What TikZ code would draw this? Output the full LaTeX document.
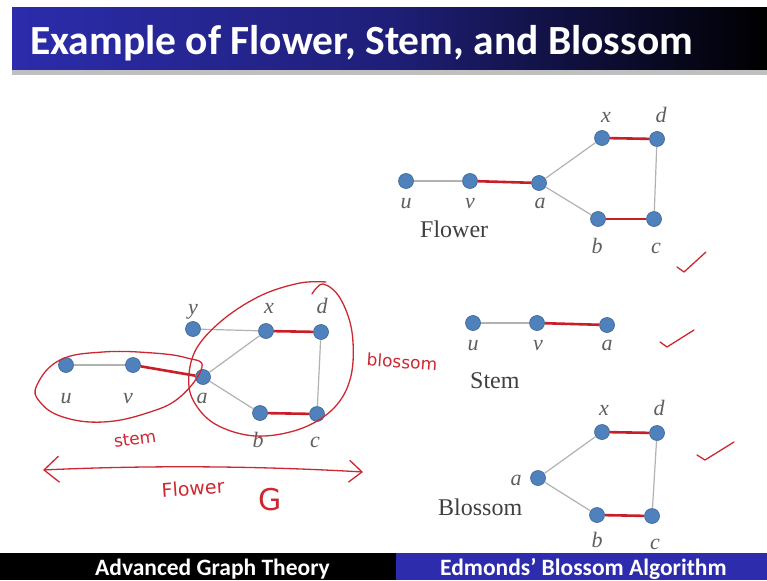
\documentclass[tikz,border=0pt]{standalone}
\usepackage{fontspec}
\setmainfont{Liberation Serif}
\newfontfamily\calib{Carlito}
\newfontfamily\handfont{DejaVu Sans}
\usetikzlibrary{arrows.meta}

\definecolor{vtxblue}{RGB}{79,129,189}
\definecolor{vtxrim}{RGB}{58,98,148}
\definecolor{matchred}{RGB}{200,30,40}
\definecolor{edgegray}{RGB}{178,178,178}
\definecolor{penred}{RGB}{205,40,50}
\definecolor{barblue}{RGB}{44,44,172}
\definecolor{lblgray}{RGB}{95,95,95}

\tikzset{
  vtx/.style={circle, fill=vtxblue, draw=vtxrim, line width=0.6pt, minimum size=15pt, inner sep=0pt},
  lbl/.style={text=lblgray, font=\fontsize{22}{22}\selectfont\itshape, inner sep=0pt, anchor=base},
  plain/.style={draw=edgegray, line width=1.2pt},
  matched/.style={draw=matchred, line width=2.6pt},
  pen/.style={draw=penred, line width=1.3pt, line cap=round, line join=round},
  hand/.style={text=penred, font=\handfont\fontsize{17}{17}\selectfont, inner sep=0pt},
  caption/.style={text=black!75, font=\fontsize{24}{24}\selectfont, inner sep=0pt, anchor=base west},
  bartext/.style={text=white, font=\calib\bfseries\fontsize{23.5}{23.5}\selectfont, inner sep=0pt, anchor=base west}
}

\begin{document}
\begin{tikzpicture}[x=1pt, y=-1pt]
\useasboundingbox (0,0) rectangle (767,580);
\fill[white] (0,0) rectangle (767,580);

% title bar
\shade[left color=barblue, right color=black, middle color=barblue!70!black] (12,8) rectangle (767,70);
\fill[black!25] (12,70) rectangle (767,75);
\node[text=white, font=\calib\bfseries\fontsize{41.5}{41.5}\selectfont, inner sep=0pt, anchor=base west] (title) at (30,55) {Example of Flower, Stem, and Blossom};

% flower
\foreach \n/\x/\y in {fu/406/181, fv/470/181, fa/539/183, fx/602/138, fd/657/139, fb/598/219, fc/654/219}
  \node[vtx] (\n) at (\x,\y) {};
\foreach \a/\b in {fu/fv, fa/fx, fa/fb, fd/fc}
  \draw[plain] (\a) -- (\b);
\foreach \a/\b in {fv/fa, fx/fd, fb/fc}
  \draw[matched] (\a) -- (\b);
\foreach \n/\t/\x/\y in {fu-l/u/406/208, fv-l/v/470/208, fa-l/a/540/208, fx-l/x/606/123, fd-l/d/661/123, fb-l/b/597/253, fc-l/c/656/253}
  \node[lbl] (\n) at (\x,\y) {\t};
\node[caption] (flowercap) at (420,237) {Flower};

% stem
\foreach \n/\x/\y in {su/473/323, sv/537/323, sa/607/325}
  \node[vtx] (\n) at (\x,\y) {};
\draw[plain] (su) -- (sv);
\draw[matched] (sv) -- (sa);
\foreach \n/\t/\x/\y in {su-l/u/473/350, sv-l/v/538/350, sa-l/a/607/350}
  \node[lbl] (\n) at (\x,\y) {\t};
\node[caption] (stemcap) at (470,388) {Stem};

% blossom
\foreach \n/\x/\y in {bx/602/432, bd/657/433, ba/538/478, bb/597/515, bc/652/516}
  \node[vtx] (\n) at (\x,\y) {};
\foreach \a/\b in {ba/bx, ba/bb, bd/bc}
  \draw[plain] (\a) -- (\b);
\foreach \a/\b in {bx/bd, bb/bc}
  \draw[matched] (\a) -- (\b);
\foreach \n/\t/\x/\y in {bx-l/x/604/415, bd-l/d/659/415, ba-l/a/516/485, bb-l/b/597/547, bc-l/c/655/549}
  \node[lbl] (\n) at (\x,\y) {\t};
\node[caption] (blossomcap) at (438,515) {Blossom};

% graph with the notes
\foreach \n/\x/\y in {gy/193/329, gx/266/331, gd/321/332, gu/66/365, gv/133/365, ga/203/377, gb/260/413, gc/317/414}
  \node[vtx] (\n) at (\x,\y) {};
\foreach \a/\b in {gy/gx, ga/gx, ga/gb, gd/gc, gu/gv}
  \draw[plain] (\a) -- (\b);
\foreach \a/\b in {gx/gd, gb/gc, gv/ga}
  \draw[matched] (\a) -- (\b);
\foreach \n/\t/\x/\y in {gy-l/y/193/314, gx-l/x/269/313, gd-l/d/322/313, gu-l/u/66/403, gv-l/v/128/403, ga-l/a/202/403, gb-l/b/258/447, gc-l/c/315/447}
  \node[lbl] (\n) at (\x,\y) {\t};

% red pen
\draw[pen] plot[smooth cycle, tension=0.7] coordinates {(37,385) (60,360) (103,352) (153,353) (187,358) (202,367) (180,397) (147,413) (103,422) (63,417) (40,402)};
\draw[pen] plot[smooth, tension=0.6] coordinates {(312,294) (323,284) (340,298) (352,332) (351,376) (334,408) (300,429) (255,436) (215,424) (193,400) (189,374) (198,346) (225,318) (262,295) (300,283) (326,282)};
\coordinate (arrl) at (43,470);
\coordinate (arrr) at (363,472);
\draw[pen, {Straight Barb[length=15pt, width=26pt]}-{Straight Barb[length=13pt, width=22pt]}] (arrl) .. controls (150,465) and (260,466) .. (arrr);
\node[hand, rotate=8] (stemnote) at (135,439) {stem};
\node[hand, rotate=-4] (blossomnote) at (402,362) {blossom};
\node[hand, rotate=4, font=\handfont\fontsize{19}{19}\selectfont] (flowernote) at (193,488) {Flower};
\node[hand, font=\handfont\fontsize{30}{30}\selectfont] (gnote) at (270,500) {G};
\draw[pen] (677,267) -- (684,272) -- (706,252);
\draw[pen] (660,342) -- (667,347) -- (694,330);
\draw[pen] (697,455) -- (705,460) -- (734,442);

% bottom bar
\fill[black] (0,553) rectangle (396,580);
\fill[barblue] (396,553) rectangle (767,580);
\node[bartext] (course) at (95,575) {Advanced Graph Theory};
\node[bartext] (topic) at (440,575) {Edmonds’ Blossom Algorithm};
\end{tikzpicture}
\end{document}
